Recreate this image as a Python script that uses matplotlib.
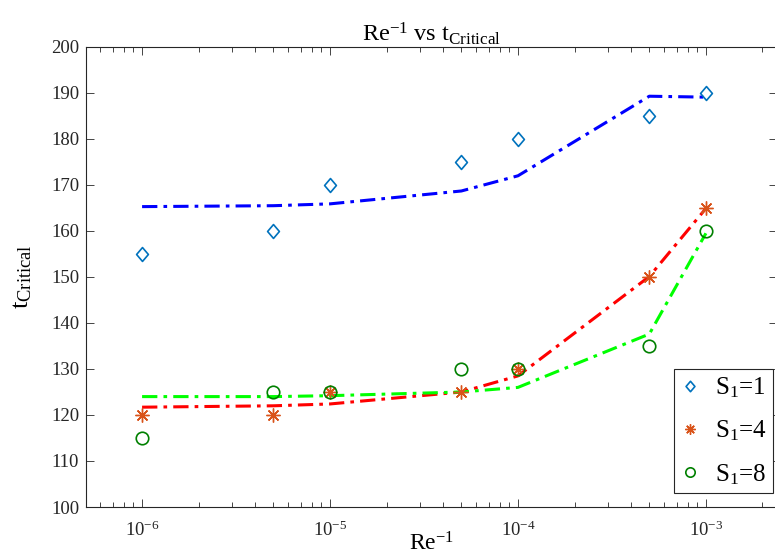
import matplotlib
matplotlib.use("Agg")
import matplotlib.pyplot as plt
from matplotlib.path import Path
from matplotlib.ticker import LogLocator, FixedLocator, NullFormatter
import numpy as np

plt.rcParams['font.family'] = ['Liberation Serif', 'DejaVu Serif']
plt.rcParams['mathtext.fontset'] = 'custom'
plt.rcParams['mathtext.rm'] = 'Liberation Serif'
plt.rcParams['mathtext.it'] = 'Liberation Serif'

re_inv = [1e-6, 5e-6, 1e-5, 5e-5, 1e-4, 5e-4, 1e-3]

s1_points = [155, 160, 170, 175, 180, 185, 190]
s4_points = [120, 120, 125, 125, 130, 150, 165]
s8_points = [115, 125, 125, 130, 130, 135, 160]

s1_fit = [165.3, 165.5, 165.9, 168.7, 172.0, 189.3, 189.1]
s4_fit = [121.7, 122.0, 122.4, 125.0, 128.5, 150.1, 164.9]
s8_fit = [124.0, 124.0, 124.2, 125.0, 126.0, 137.6, 159.5]

labels = ['S$_1$=1', 'S$_1$=4', 'S$_1$=8']

fig = plt.figure(figsize=(7.75, 5.58), dpi=100)
ax = fig.add_axes([86/775, 51/558, (777-86)/775, (507-47)/558])

diamond = Path([(0, 1), (0.85, 0), (0, -1), (-0.85, 0), (0, 1)],
               [Path.MOVETO, Path.LINETO, Path.LINETO, Path.LINETO, Path.CLOSEPOLY])

ax.plot(re_inv, s1_fit, color=(0, 0, 1), ls='-.', lw=2.2, dashes=(5, 2, 1.2, 2))
ax.plot(re_inv, s4_fit, color=(1, 0, 0), ls='-.', lw=2.2, dashes=(5, 2, 1.2, 2))
ax.plot(re_inv, s8_fit, color=(0, 1, 0), ls='-.', lw=2.2, dashes=(5, 2, 1.2, 2))

h1, = ax.plot(re_inv, s1_points, ls='none', marker=diamond, ms=10, mfc='none',
              mec='#0072BD', mew=1.2, label=labels[0])
h2, = ax.plot(re_inv, s4_points, ls='none', marker=(8, 2, 0), ms=10,
              mec='#D95319', mew=1.0, label=labels[1])
h3, = ax.plot(re_inv, s8_points, ls='none', marker='o', ms=9, mfc='none',
              mec='#008000', mew=1.2, label=labels[2])

ax.set_xscale('log')
ax.set_xlim(5.03e-7, 2.39e-3)
ax.set_ylim(100, 200)
ax.yaxis.set_major_locator(FixedLocator(np.arange(100, 201, 10)))
ax.xaxis.set_major_locator(FixedLocator([1e-6, 1e-5, 1e-4, 1e-3]))
ax.xaxis.set_minor_locator(LogLocator(base=10, subs=np.arange(2, 10), numticks=20))
ax.xaxis.set_minor_formatter(NullFormatter())

for sp in ax.spines.values():
    sp.set_color('#262626')
    sp.set_linewidth(0.8)

ax.tick_params(axis='both', which='both', direction='in', top=True, right=True,
               colors='#262626', labelsize=13.5)
ax.tick_params(which='major', length=6, width=0.6)
ax.tick_params(which='minor', length=3.5, width=0.6)
ax.tick_params(axis='x', pad=10)
ax.tick_params(axis='y', pad=5)

ax.set_xlabel('Re$^{-1}$', fontsize=17, labelpad=-6)
ax.set_ylabel('t$_{\\mathrm{Critical}}$', fontsize=19, labelpad=12)
ax.set_title('Re$^{-1}$ vs t$_{\\mathrm{Critical}}$', fontsize=17.5, pad=4)

leg = ax.legend(handles=[h1, h2, h3], loc='lower right',
                bbox_to_anchor=((773-86)/(777-86), (507-493)/460),
                fontsize=18, frameon=True, fancybox=False, framealpha=1,
                edgecolor='#262626', handlelength=0.8, handletextpad=0.6,
                borderpad=0.25, labelspacing=0.75, borderaxespad=0,
                markerscale=0.75)
leg.get_frame().set_linewidth(0.8)

fig.savefig('out.png', dpi=100)
